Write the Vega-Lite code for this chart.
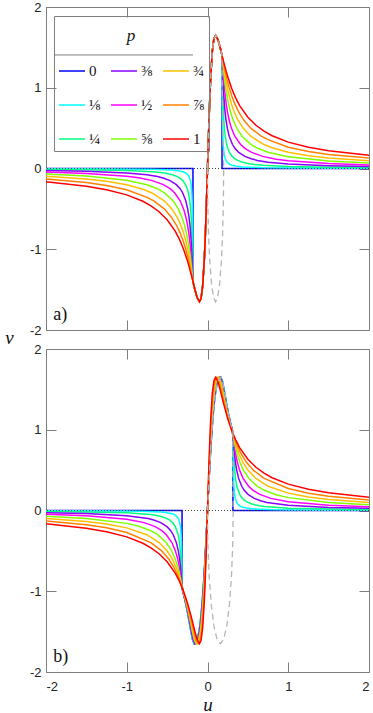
{
"$schema":"https://vega.github.io/schema/vega-lite/v6.json",
"padding":{"left":4,"top":0,"right":0,"bottom":0},
"config":{"view":{"stroke":"#7f7f7f","strokeWidth":1},"axis":{"domain":false,"grid":false,"tickColor":"#7f7f7f","tickWidth":1,"tickSize":-10,"labelFont":"Liberation Sans","labelFontSize":13,"labelColor":"#222222"}},
"spacing":19,
"bounds":"flush",
"resolve":{"scale":{"color":"independent"}},
"datasets":{
"a":[
{"p":"0","u":-2,"v":0},{"p":"0","u":-0.18,"v":0},
{"p":"0","u":-0.18,"v":-1.401},{"p":"0","u":-0.16,"v":-1.483},{"p":"0","u":-0.13,"v":-1.595},{"p":"0","u":-0.1,"v":-1.65},{"p":"0","u":-0.08,"v":-1.61},{"p":"0","u":-0.06,"v":-1.456},{"p":"0","u":-0.04,"v":-1.138},{"p":"0","u":-0.03,"v":-0.908},{"p":"0","u":-0.02,"v":-0.635},{"p":"0","u":-0.01,"v":-0.327},{"p":"0","u":0,"v":0},{"p":"0","u":0.01,"v":0.327},{"p":"0","u":0.02,"v":0.635},{"p":"0","u":0.03,"v":0.908},{"p":"0","u":0.04,"v":1.138},{"p":"0","u":0.06,"v":1.456},{"p":"0","u":0.08,"v":1.61},{"p":"0","u":0.1,"v":1.65},{"p":"0","u":0.13,"v":1.595},{"p":"0","u":0.16,"v":1.483},{"p":"0","u":0.18,"v":1.401},
{"p":"0","u":0.18,"v":0},{"p":"0","u":2,"v":0},

{"p":"⅛","u":-2,"v":-0.0028},{"p":"⅛","u":-1.5,"v":-0.0039},{"p":"⅛","u":-1,"v":-0.0063},{"p":"⅛","u":-0.6928,"v":-0.01},{"p":"⅛","u":-0.435,"v":-0.02},{"p":"⅛","u":-0.3491,"v":-0.03},{"p":"⅛","u":-0.3061,"v":-0.04},{"p":"⅛","u":-0.2803,"v":-0.05},{"p":"⅛","u":-0.2631,"v":-0.06},{"p":"⅛","u":-0.2416,"v":-0.08},{"p":"⅛","u":-0.2287,"v":-0.1},{"p":"⅛","u":-0.2115,"v":-0.15},{"p":"⅛","u":-0.2029,"v":-0.2},{"p":"⅛","u":-0.1942,"v":-0.3},{"p":"⅛","u":-0.1899,"v":-0.4},{"p":"⅛","u":-0.1855,"v":-0.6},{"p":"⅛","u":-0.1818,"v":-1.0},
{"p":"⅛","u":-0.18,"v":-1.401},{"p":"⅛","u":-0.16,"v":-1.483},{"p":"⅛","u":-0.13,"v":-1.595},{"p":"⅛","u":-0.1,"v":-1.65},{"p":"⅛","u":-0.08,"v":-1.61},{"p":"⅛","u":-0.06,"v":-1.456},{"p":"⅛","u":-0.04,"v":-1.138},{"p":"⅛","u":-0.03,"v":-0.908},{"p":"⅛","u":-0.02,"v":-0.635},{"p":"⅛","u":-0.01,"v":-0.327},{"p":"⅛","u":0,"v":0},{"p":"⅛","u":0.01,"v":0.327},{"p":"⅛","u":0.02,"v":0.635},{"p":"⅛","u":0.03,"v":0.908},{"p":"⅛","u":0.04,"v":1.138},{"p":"⅛","u":0.06,"v":1.456},{"p":"⅛","u":0.08,"v":1.61},{"p":"⅛","u":0.1,"v":1.65},{"p":"⅛","u":0.13,"v":1.595},{"p":"⅛","u":0.16,"v":1.483},{"p":"⅛","u":0.18,"v":1.401},
{"p":"⅛","u":0.1818,"v":1.0},{"p":"⅛","u":0.1855,"v":0.6},{"p":"⅛","u":0.1899,"v":0.4},{"p":"⅛","u":0.1942,"v":0.3},{"p":"⅛","u":0.2029,"v":0.2},{"p":"⅛","u":0.2115,"v":0.15},{"p":"⅛","u":0.2287,"v":0.1},{"p":"⅛","u":0.2416,"v":0.08},{"p":"⅛","u":0.2631,"v":0.06},{"p":"⅛","u":0.2803,"v":0.05},{"p":"⅛","u":0.3061,"v":0.04},{"p":"⅛","u":0.3491,"v":0.03},{"p":"⅛","u":0.435,"v":0.02},{"p":"⅛","u":0.6928,"v":0.01},{"p":"⅛","u":1,"v":0.0063},{"p":"⅛","u":1.5,"v":0.0039},{"p":"⅛","u":2,"v":0.0028},

{"p":"¼","u":-2,"v":-0.0113},{"p":"¼","u":-1.5,"v":-0.0155},{"p":"¼","u":-1,"v":-0.0248},{"p":"¼","u":-0.6844,"v":-0.04},{"p":"¼","u":-0.5813,"v":-0.05},{"p":"¼","u":-0.5125,"v":-0.06},{"p":"¼","u":-0.4263,"v":-0.08},{"p":"¼","u":-0.3748,"v":-0.1},{"p":"¼","u":-0.3404,"v":-0.12},{"p":"¼","u":-0.3059,"v":-0.15},{"p":"¼","u":-0.2715,"v":-0.2},{"p":"¼","u":-0.2508,"v":-0.25},{"p":"¼","u":-0.2369,"v":-0.3},{"p":"¼","u":-0.2196,"v":-0.4},{"p":"¼","u":-0.209,"v":-0.5},{"p":"¼","u":-0.202,"v":-0.6},{"p":"¼","u":-0.1929,"v":-0.8},{"p":"¼","u":-0.1873,"v":-1.0},
{"p":"¼","u":-0.18,"v":-1.401},{"p":"¼","u":-0.16,"v":-1.483},{"p":"¼","u":-0.13,"v":-1.595},{"p":"¼","u":-0.1,"v":-1.65},{"p":"¼","u":-0.08,"v":-1.61},{"p":"¼","u":-0.06,"v":-1.456},{"p":"¼","u":-0.04,"v":-1.138},{"p":"¼","u":-0.03,"v":-0.908},{"p":"¼","u":-0.02,"v":-0.635},{"p":"¼","u":-0.01,"v":-0.327},{"p":"¼","u":0,"v":0},{"p":"¼","u":0.01,"v":0.327},{"p":"¼","u":0.02,"v":0.635},{"p":"¼","u":0.03,"v":0.908},{"p":"¼","u":0.04,"v":1.138},{"p":"¼","u":0.06,"v":1.456},{"p":"¼","u":0.08,"v":1.61},{"p":"¼","u":0.1,"v":1.65},{"p":"¼","u":0.13,"v":1.595},{"p":"¼","u":0.16,"v":1.483},{"p":"¼","u":0.18,"v":1.401},
{"p":"¼","u":0.1873,"v":1.0},{"p":"¼","u":0.1929,"v":0.8},{"p":"¼","u":0.202,"v":0.6},{"p":"¼","u":0.209,"v":0.5},{"p":"¼","u":0.2196,"v":0.4},{"p":"¼","u":0.2369,"v":0.3},{"p":"¼","u":0.2508,"v":0.25},{"p":"¼","u":0.2715,"v":0.2},{"p":"¼","u":0.3059,"v":0.15},{"p":"¼","u":0.3404,"v":0.12},{"p":"¼","u":0.3748,"v":0.1},{"p":"¼","u":0.4263,"v":0.08},{"p":"¼","u":0.5125,"v":0.06},{"p":"¼","u":0.5813,"v":0.05},{"p":"¼","u":0.6844,"v":0.04},{"p":"¼","u":1,"v":0.0248},{"p":"¼","u":1.5,"v":0.0155},{"p":"¼","u":2,"v":0.0113},

{"p":"⅜","u":-2,"v":-0.0251},{"p":"⅜","u":-1.5,"v":-0.0345},{"p":"⅜","u":-1,"v":-0.0549},{"p":"⅜","u":-0.75,"v":-0.078},{"p":"⅜","u":-0.6183,"v":-0.1},{"p":"⅜","u":-0.541,"v":-0.12},{"p":"⅜","u":-0.4634,"v":-0.15},{"p":"⅜","u":-0.3859,"v":-0.2},{"p":"⅜","u":-0.3392,"v":-0.25},{"p":"⅜","u":-0.3081,"v":-0.3},{"p":"⅜","u":-0.269,"v":-0.4},{"p":"⅜","u":-0.2453,"v":-0.5},{"p":"⅜","u":-0.2294,"v":-0.6},{"p":"⅜","u":-0.2178,"v":-0.7},{"p":"⅜","u":-0.209,"v":-0.8},{"p":"⅜","u":-0.2021,"v":-0.9},{"p":"⅜","u":-0.1963,"v":-1.0},{"p":"⅜","u":-0.1915,"v":-1.1},{"p":"⅜","u":-0.1835,"v":-1.3},
{"p":"⅜","u":-0.18,"v":-1.401},{"p":"⅜","u":-0.16,"v":-1.483},{"p":"⅜","u":-0.13,"v":-1.595},{"p":"⅜","u":-0.1,"v":-1.65},{"p":"⅜","u":-0.08,"v":-1.61},{"p":"⅜","u":-0.06,"v":-1.456},{"p":"⅜","u":-0.04,"v":-1.138},{"p":"⅜","u":-0.03,"v":-0.908},{"p":"⅜","u":-0.02,"v":-0.635},{"p":"⅜","u":-0.01,"v":-0.327},{"p":"⅜","u":0,"v":0},{"p":"⅜","u":0.01,"v":0.327},{"p":"⅜","u":0.02,"v":0.635},{"p":"⅜","u":0.03,"v":0.908},{"p":"⅜","u":0.04,"v":1.138},{"p":"⅜","u":0.06,"v":1.456},{"p":"⅜","u":0.08,"v":1.61},{"p":"⅜","u":0.1,"v":1.65},{"p":"⅜","u":0.13,"v":1.595},{"p":"⅜","u":0.16,"v":1.483},{"p":"⅜","u":0.18,"v":1.401},
{"p":"⅜","u":0.1835,"v":1.3},{"p":"⅜","u":0.1915,"v":1.1},{"p":"⅜","u":0.1963,"v":1.0},{"p":"⅜","u":0.2021,"v":0.9},{"p":"⅜","u":0.209,"v":0.8},{"p":"⅜","u":0.2178,"v":0.7},{"p":"⅜","u":0.2294,"v":0.6},{"p":"⅜","u":0.2453,"v":0.5},{"p":"⅜","u":0.269,"v":0.4},{"p":"⅜","u":0.3081,"v":0.3},{"p":"⅜","u":0.3392,"v":0.25},{"p":"⅜","u":0.3859,"v":0.2},{"p":"⅜","u":0.4634,"v":0.15},{"p":"⅜","u":0.541,"v":0.12},{"p":"⅜","u":0.6183,"v":0.1},{"p":"⅜","u":0.75,"v":0.078},{"p":"⅜","u":1,"v":0.0549},{"p":"⅜","u":1.5,"v":0.0345},{"p":"⅜","u":2,"v":0.0251},

{"p":"½","u":-2,"v":-0.0443},{"p":"½","u":-1.5,"v":-0.0604},{"p":"½","u":-1,"v":-0.0954},{"p":"½","u":-0.85,"v":-0.1154},{"p":"½","u":-0.684,"v":-0.15},{"p":"½","u":-0.546,"v":-0.2},{"p":"½","u":-0.4631,"v":-0.25},{"p":"½","u":-0.4077,"v":-0.3},{"p":"½","u":-0.3382,"v":-0.4},{"p":"½","u":-0.2961,"v":-0.5},{"p":"½","u":-0.2678,"v":-0.6},{"p":"½","u":-0.2473,"v":-0.7},{"p":"½","u":-0.2317,"v":-0.8},{"p":"½","u":-0.2193,"v":-0.9},{"p":"½","u":-0.209,"v":-1.0},{"p":"½","u":-0.2005,"v":-1.1},{"p":"½","u":-0.1863,"v":-1.3},
{"p":"½","u":-0.18,"v":-1.401},{"p":"½","u":-0.16,"v":-1.483},{"p":"½","u":-0.13,"v":-1.595},{"p":"½","u":-0.1,"v":-1.65},{"p":"½","u":-0.08,"v":-1.61},{"p":"½","u":-0.06,"v":-1.456},{"p":"½","u":-0.04,"v":-1.138},{"p":"½","u":-0.03,"v":-0.908},{"p":"½","u":-0.02,"v":-0.635},{"p":"½","u":-0.01,"v":-0.327},{"p":"½","u":0,"v":0},{"p":"½","u":0.01,"v":0.327},{"p":"½","u":0.02,"v":0.635},{"p":"½","u":0.03,"v":0.908},{"p":"½","u":0.04,"v":1.138},{"p":"½","u":0.06,"v":1.456},{"p":"½","u":0.08,"v":1.61},{"p":"½","u":0.1,"v":1.65},{"p":"½","u":0.13,"v":1.595},{"p":"½","u":0.16,"v":1.483},{"p":"½","u":0.18,"v":1.401},
{"p":"½","u":0.1863,"v":1.3},{"p":"½","u":0.2005,"v":1.1},{"p":"½","u":0.209,"v":1.0},{"p":"½","u":0.2193,"v":0.9},{"p":"½","u":0.2317,"v":0.8},{"p":"½","u":0.2473,"v":0.7},{"p":"½","u":0.2678,"v":0.6},{"p":"½","u":0.2961,"v":0.5},{"p":"½","u":0.3382,"v":0.4},{"p":"½","u":0.4077,"v":0.3},{"p":"½","u":0.4631,"v":0.25},{"p":"½","u":0.546,"v":0.2},{"p":"½","u":0.684,"v":0.15},{"p":"½","u":0.85,"v":0.1154},{"p":"½","u":1,"v":0.0954},{"p":"½","u":1.5,"v":0.0604},{"p":"½","u":2,"v":0.0443},

{"p":"⅝","u":-2,"v":-0.0682},{"p":"⅝","u":-1.5,"v":-0.0927},{"p":"⅝","u":-1,"v":-0.1448},{"p":"⅝","u":-0.75,"v":-0.2013},{"p":"⅝","u":-0.6223,"v":-0.25},{"p":"⅝","u":-0.5358,"v":-0.3},{"p":"⅝","u":-0.4272,"v":-0.4},{"p":"⅝","u":-0.3614,"v":-0.5},{"p":"⅝","u":-0.3172,"v":-0.6},{"p":"⅝","u":-0.2851,"v":-0.7},{"p":"⅝","u":-0.2607,"v":-0.8},{"p":"⅝","u":-0.2413,"v":-0.9},{"p":"⅝","u":-0.2254,"v":-1.0},{"p":"⅝","u":-0.212,"v":-1.1},{"p":"⅝","u":-0.2003,"v":-1.2},{"p":"⅝","u":-0.1898,"v":-1.3},
{"p":"⅝","u":-0.18,"v":-1.401},{"p":"⅝","u":-0.16,"v":-1.483},{"p":"⅝","u":-0.13,"v":-1.595},{"p":"⅝","u":-0.1,"v":-1.65},{"p":"⅝","u":-0.08,"v":-1.61},{"p":"⅝","u":-0.06,"v":-1.456},{"p":"⅝","u":-0.04,"v":-1.138},{"p":"⅝","u":-0.03,"v":-0.908},{"p":"⅝","u":-0.02,"v":-0.635},{"p":"⅝","u":-0.01,"v":-0.327},{"p":"⅝","u":0,"v":0},{"p":"⅝","u":0.01,"v":0.327},{"p":"⅝","u":0.02,"v":0.635},{"p":"⅝","u":0.03,"v":0.908},{"p":"⅝","u":0.04,"v":1.138},{"p":"⅝","u":0.06,"v":1.456},{"p":"⅝","u":0.08,"v":1.61},{"p":"⅝","u":0.1,"v":1.65},{"p":"⅝","u":0.13,"v":1.595},{"p":"⅝","u":0.16,"v":1.483},{"p":"⅝","u":0.18,"v":1.401},
{"p":"⅝","u":0.1898,"v":1.3},{"p":"⅝","u":0.2003,"v":1.2},{"p":"⅝","u":0.212,"v":1.1},{"p":"⅝","u":0.2254,"v":1.0},{"p":"⅝","u":0.2413,"v":0.9},{"p":"⅝","u":0.2607,"v":0.8},{"p":"⅝","u":0.2851,"v":0.7},{"p":"⅝","u":0.3172,"v":0.6},{"p":"⅝","u":0.3614,"v":0.5},{"p":"⅝","u":0.4272,"v":0.4},{"p":"⅝","u":0.5358,"v":0.3},{"p":"⅝","u":0.6223,"v":0.25},{"p":"⅝","u":0.75,"v":0.2013},{"p":"⅝","u":1,"v":0.1448},{"p":"⅝","u":1.5,"v":0.0927},{"p":"⅝","u":2,"v":0.0682},

{"p":"¾","u":-2,"v":-0.0966},{"p":"¾","u":-1.5,"v":-0.1306},{"p":"¾","u":-1.25,"v":-0.1585},{"p":"¾","u":-1,"v":-0.2014},{"p":"¾","u":-0.8,"v":-0.2573},{"p":"¾","u":-0.6923,"v":-0.3},{"p":"¾","u":-0.5359,"v":-0.4},{"p":"¾","u":-0.4413,"v":-0.5},{"p":"¾","u":-0.3776,"v":-0.6},{"p":"¾","u":-0.3314,"v":-0.7},{"p":"¾","u":-0.2962,"v":-0.8},{"p":"¾","u":-0.2683,"v":-0.9},{"p":"¾","u":-0.2454,"v":-1.0},{"p":"¾","u":-0.226,"v":-1.1},{"p":"¾","u":-0.2092,"v":-1.2},{"p":"¾","u":-0.1941,"v":-1.3},
{"p":"¾","u":-0.18,"v":-1.401},{"p":"¾","u":-0.16,"v":-1.483},{"p":"¾","u":-0.13,"v":-1.595},{"p":"¾","u":-0.1,"v":-1.65},{"p":"¾","u":-0.08,"v":-1.61},{"p":"¾","u":-0.06,"v":-1.456},{"p":"¾","u":-0.04,"v":-1.138},{"p":"¾","u":-0.03,"v":-0.908},{"p":"¾","u":-0.02,"v":-0.635},{"p":"¾","u":-0.01,"v":-0.327},{"p":"¾","u":0,"v":0},{"p":"¾","u":0.01,"v":0.327},{"p":"¾","u":0.02,"v":0.635},{"p":"¾","u":0.03,"v":0.908},{"p":"¾","u":0.04,"v":1.138},{"p":"¾","u":0.06,"v":1.456},{"p":"¾","u":0.08,"v":1.61},{"p":"¾","u":0.1,"v":1.65},{"p":"¾","u":0.13,"v":1.595},{"p":"¾","u":0.16,"v":1.483},{"p":"¾","u":0.18,"v":1.401},
{"p":"¾","u":0.1941,"v":1.3},{"p":"¾","u":0.2092,"v":1.2},{"p":"¾","u":0.226,"v":1.1},{"p":"¾","u":0.2454,"v":1.0},{"p":"¾","u":0.2683,"v":0.9},{"p":"¾","u":0.2962,"v":0.8},{"p":"¾","u":0.3314,"v":0.7},{"p":"¾","u":0.3776,"v":0.6},{"p":"¾","u":0.4413,"v":0.5},{"p":"¾","u":0.5359,"v":0.4},{"p":"¾","u":0.6923,"v":0.3},{"p":"¾","u":0.8,"v":0.2573},{"p":"¾","u":1,"v":0.2014},{"p":"¾","u":1.25,"v":0.1585},{"p":"¾","u":1.5,"v":0.1306},{"p":"¾","u":2,"v":0.0966},

{"p":"⅞","u":-2,"v":-0.129},{"p":"⅞","u":-1.5,"v":-0.1733},{"p":"⅞","u":-1.25,"v":-0.2092},{"p":"⅞","u":-1,"v":-0.2638},{"p":"⅞","u":-0.75,"v":-0.357},{"p":"⅞","u":-0.6645,"v":-0.4},{"p":"⅞","u":-0.5356,"v":-0.5},{"p":"⅞","u":-0.4489,"v":-0.6},{"p":"⅞","u":-0.386,"v":-0.7},{"p":"⅞","u":-0.3382,"v":-0.8},{"p":"⅞","u":-0.3002,"v":-0.9},{"p":"⅞","u":-0.269,"v":-1.0},{"p":"⅞","u":-0.2426,"v":-1.1},{"p":"⅞","u":-0.2197,"v":-1.2},{"p":"⅞","u":-0.1992,"v":-1.3},
{"p":"⅞","u":-0.18,"v":-1.401},{"p":"⅞","u":-0.16,"v":-1.483},{"p":"⅞","u":-0.13,"v":-1.595},{"p":"⅞","u":-0.1,"v":-1.65},{"p":"⅞","u":-0.08,"v":-1.61},{"p":"⅞","u":-0.06,"v":-1.456},{"p":"⅞","u":-0.04,"v":-1.138},{"p":"⅞","u":-0.03,"v":-0.908},{"p":"⅞","u":-0.02,"v":-0.635},{"p":"⅞","u":-0.01,"v":-0.327},{"p":"⅞","u":0,"v":0},{"p":"⅞","u":0.01,"v":0.327},{"p":"⅞","u":0.02,"v":0.635},{"p":"⅞","u":0.03,"v":0.908},{"p":"⅞","u":0.04,"v":1.138},{"p":"⅞","u":0.06,"v":1.456},{"p":"⅞","u":0.08,"v":1.61},{"p":"⅞","u":0.1,"v":1.65},{"p":"⅞","u":0.13,"v":1.595},{"p":"⅞","u":0.16,"v":1.483},{"p":"⅞","u":0.18,"v":1.401},
{"p":"⅞","u":0.1992,"v":1.3},{"p":"⅞","u":0.2197,"v":1.2},{"p":"⅞","u":0.2426,"v":1.1},{"p":"⅞","u":0.269,"v":1.0},{"p":"⅞","u":0.3002,"v":0.9},{"p":"⅞","u":0.3382,"v":0.8},{"p":"⅞","u":0.386,"v":0.7},{"p":"⅞","u":0.4489,"v":0.6},{"p":"⅞","u":0.5356,"v":0.5},{"p":"⅞","u":0.6645,"v":0.4},{"p":"⅞","u":0.75,"v":0.357},{"p":"⅞","u":1,"v":0.2638},{"p":"⅞","u":1.25,"v":0.2092},{"p":"⅞","u":1.5,"v":0.1733},{"p":"⅞","u":2,"v":0.129},

{"p":"1","u":-2,"v":-0.1646},{"p":"1","u":-1.5,"v":-0.219},{"p":"1","u":-1.25,"v":-0.2623},{"p":"1","u":-1,"v":-0.3267},{"p":"1","u":-0.8,"v":-0.406},{"p":"1","u":-0.7,"v":-0.462},{"p":"1","u":-0.6,"v":-0.535},{"p":"1","u":-0.5,"v":-0.6346},{"p":"1","u":-0.4,"v":-0.776},{"p":"1","u":-0.35,"v":-0.872},{"p":"1","u":-0.3,"v":-0.99},{"p":"1","u":-0.25,"v":-1.138},{"p":"1","u":-0.2,"v":-1.32},
{"p":"1","u":-0.18,"v":-1.401},{"p":"1","u":-0.16,"v":-1.483},{"p":"1","u":-0.13,"v":-1.595},{"p":"1","u":-0.1,"v":-1.65},{"p":"1","u":-0.08,"v":-1.61},{"p":"1","u":-0.06,"v":-1.456},{"p":"1","u":-0.04,"v":-1.138},{"p":"1","u":-0.03,"v":-0.908},{"p":"1","u":-0.02,"v":-0.635},{"p":"1","u":-0.01,"v":-0.327},{"p":"1","u":0,"v":0},{"p":"1","u":0.01,"v":0.327},{"p":"1","u":0.02,"v":0.635},{"p":"1","u":0.03,"v":0.908},{"p":"1","u":0.04,"v":1.138},{"p":"1","u":0.06,"v":1.456},{"p":"1","u":0.08,"v":1.61},{"p":"1","u":0.1,"v":1.65},{"p":"1","u":0.13,"v":1.595},{"p":"1","u":0.16,"v":1.483},{"p":"1","u":0.18,"v":1.401},
{"p":"1","u":0.2,"v":1.32},{"p":"1","u":0.25,"v":1.138},{"p":"1","u":0.3,"v":0.99},{"p":"1","u":0.35,"v":0.872},{"p":"1","u":0.4,"v":0.776},{"p":"1","u":0.5,"v":0.6346},{"p":"1","u":0.6,"v":0.535},{"p":"1","u":0.7,"v":0.462},{"p":"1","u":0.8,"v":0.406},{"p":"1","u":1,"v":0.3267},{"p":"1","u":1.25,"v":0.2623},{"p":"1","u":1.5,"v":0.219},{"p":"1","u":2,"v":0.1646}
],
"b":[
{"p":"0","u":-2,"v":0},{"p":"0","u":-0.315,"v":0},{"p":"0","u":-0.315,"v":-0.97},{"p":"0","u":-0.3067,"v":-1.0},{"p":"0","u":-0.2818,"v":-1.1},{"p":"0","u":-0.2602,"v":-1.2},{"p":"0","u":-0.2409,"v":-1.3},{"p":"0","u":-0.2229,"v":-1.4},{"p":"0","u":-0.2053,"v":-1.5},{"p":"0","u":-0.1854,"v":-1.6},{"p":"0","u":-0.165,"v":-1.65},{"p":"0","u":-0.1286,"v":-1.6},{"p":"0","u":-0.1059,"v":-1.5},{"p":"0","u":-0.0915,"v":-1.4},{"p":"0","u":-0.0712,"v":-1.2},{"p":"0","u":-0.0557,"v":-1.0},{"p":"0","u":-0.0427,"v":-0.8},{"p":"0","u":-0.0311,"v":-0.6},{"p":"0","u":-0.0203,"v":-0.4},{"p":"0","u":-0.01,"v":-0.2},
{"p":"0","u":0,"v":0},
{"p":"0","u":0.01,"v":0.2},{"p":"0","u":0.0203,"v":0.4},{"p":"0","u":0.0311,"v":0.6},{"p":"0","u":0.0427,"v":0.8},{"p":"0","u":0.0557,"v":1.0},{"p":"0","u":0.0712,"v":1.2},{"p":"0","u":0.0915,"v":1.4},{"p":"0","u":0.1059,"v":1.5},{"p":"0","u":0.1286,"v":1.6},{"p":"0","u":0.165,"v":1.65},{"p":"0","u":0.1854,"v":1.6},{"p":"0","u":0.2053,"v":1.5},{"p":"0","u":0.2229,"v":1.4},{"p":"0","u":0.2409,"v":1.3},{"p":"0","u":0.2602,"v":1.2},{"p":"0","u":0.2818,"v":1.1},{"p":"0","u":0.3067,"v":1.0},{"p":"0","u":0.315,"v":0.97},{"p":"0","u":0.315,"v":0},{"p":"0","u":2,"v":0},

{"p":"⅛","u":-2,"v":-0.0031},{"p":"⅛","u":-1.5,"v":-0.0043},{"p":"⅛","u":-1,"v":-0.0075},{"p":"⅛","u":-0.8257,"v":-0.01},{"p":"⅛","u":-0.5679,"v":-0.02},{"p":"⅛","u":-0.482,"v":-0.03},{"p":"⅛","u":-0.439,"v":-0.04},{"p":"⅛","u":-0.4132,"v":-0.05},{"p":"⅛","u":-0.396,"v":-0.06},{"p":"⅛","u":-0.3745,"v":-0.08},{"p":"⅛","u":-0.3616,"v":-0.1},{"p":"⅛","u":-0.3444,"v":-0.15},{"p":"⅛","u":-0.3358,"v":-0.2},{"p":"⅛","u":-0.3271,"v":-0.3},{"p":"⅛","u":-0.3228,"v":-0.4},{"p":"⅛","u":-0.3184,"v":-0.6},{"p":"⅛","u":-0.3153,"v":-0.9},{"p":"⅛","u":-0.3065,"v":-1.0},{"p":"⅛","u":-0.2815,"v":-1.1},{"p":"⅛","u":-0.2598,"v":-1.2},{"p":"⅛","u":-0.2403,"v":-1.3},{"p":"⅛","u":-0.2222,"v":-1.4},{"p":"⅛","u":-0.2045,"v":-1.5},{"p":"⅛","u":-0.1845,"v":-1.6},{"p":"⅛","u":-0.164,"v":-1.65},{"p":"⅛","u":-0.1278,"v":-1.6},{"p":"⅛","u":-0.1052,"v":-1.5},{"p":"⅛","u":-0.0909,"v":-1.4},{"p":"⅛","u":-0.0708,"v":-1.2},{"p":"⅛","u":-0.0554,"v":-1.0},{"p":"⅛","u":-0.0424,"v":-0.8},{"p":"⅛","u":-0.0309,"v":-0.6},{"p":"⅛","u":-0.0202,"v":-0.4},{"p":"⅛","u":-0.0099,"v":-0.2},
{"p":"⅛","u":0,"v":0},
{"p":"⅛","u":0.0099,"v":0.2},{"p":"⅛","u":0.0202,"v":0.4},{"p":"⅛","u":0.0309,"v":0.6},{"p":"⅛","u":0.0424,"v":0.8},{"p":"⅛","u":0.0554,"v":1.0},{"p":"⅛","u":0.0708,"v":1.2},{"p":"⅛","u":0.0909,"v":1.4},{"p":"⅛","u":0.1052,"v":1.5},{"p":"⅛","u":0.1278,"v":1.6},{"p":"⅛","u":0.164,"v":1.65},{"p":"⅛","u":0.1845,"v":1.6},{"p":"⅛","u":0.2045,"v":1.5},{"p":"⅛","u":0.2222,"v":1.4},{"p":"⅛","u":0.2403,"v":1.3},{"p":"⅛","u":0.2598,"v":1.2},{"p":"⅛","u":0.2815,"v":1.1},{"p":"⅛","u":0.3065,"v":1.0},{"p":"⅛","u":0.3153,"v":0.9},{"p":"⅛","u":0.3184,"v":0.6},{"p":"⅛","u":0.3228,"v":0.4},{"p":"⅛","u":0.3271,"v":0.3},{"p":"⅛","u":0.3358,"v":0.2},{"p":"⅛","u":0.3444,"v":0.15},{"p":"⅛","u":0.3616,"v":0.1},{"p":"⅛","u":0.3745,"v":0.08},{"p":"⅛","u":0.396,"v":0.06},{"p":"⅛","u":0.4132,"v":0.05},{"p":"⅛","u":0.439,"v":0.04},{"p":"⅛","u":0.482,"v":0.03},{"p":"⅛","u":0.5679,"v":0.02},{"p":"⅛","u":0.8257,"v":0.01},{"p":"⅛","u":1,"v":0.0075},{"p":"⅛","u":1.5,"v":0.0043},{"p":"⅛","u":2,"v":0.0031},

{"p":"¼","u":-2,"v":-0.0121},{"p":"¼","u":-1.5,"v":-0.0171},{"p":"¼","u":-1,"v":-0.0293},{"p":"¼","u":-0.7078,"v":-0.05},{"p":"¼","u":-0.6391,"v":-0.06},{"p":"¼","u":-0.5531,"v":-0.08},{"p":"¼","u":-0.5014,"v":-0.1},{"p":"¼","u":-0.467,"v":-0.12},{"p":"¼","u":-0.4325,"v":-0.15},{"p":"¼","u":-0.3981,"v":-0.2},{"p":"¼","u":-0.3635,"v":-0.3},{"p":"¼","u":-0.3461,"v":-0.4},{"p":"¼","u":-0.3285,"v":-0.6},{"p":"¼","u":-0.3195,"v":-0.8},{"p":"¼","u":-0.3164,"v":-0.9},{"p":"¼","u":-0.306,"v":-1.0},{"p":"¼","u":-0.2806,"v":-1.1},{"p":"¼","u":-0.2584,"v":-1.2},{"p":"¼","u":-0.2387,"v":-1.3},{"p":"¼","u":-0.2202,"v":-1.4},{"p":"¼","u":-0.2022,"v":-1.5},{"p":"¼","u":-0.1818,"v":-1.6},{"p":"¼","u":-0.1609,"v":-1.65},{"p":"¼","u":-0.1254,"v":-1.6},{"p":"¼","u":-0.1033,"v":-1.5},{"p":"¼","u":-0.0893,"v":-1.4},{"p":"¼","u":-0.0694,"v":-1.2},{"p":"¼","u":-0.0543,"v":-1.0},{"p":"¼","u":-0.0417,"v":-0.8},{"p":"¼","u":-0.0303,"v":-0.6},{"p":"¼","u":-0.0198,"v":-0.4},{"p":"¼","u":-0.0098,"v":-0.2},
{"p":"¼","u":0,"v":0},
{"p":"¼","u":0.0098,"v":0.2},{"p":"¼","u":0.0198,"v":0.4},{"p":"¼","u":0.0303,"v":0.6},{"p":"¼","u":0.0417,"v":0.8},{"p":"¼","u":0.0543,"v":1.0},{"p":"¼","u":0.0694,"v":1.2},{"p":"¼","u":0.0893,"v":1.4},{"p":"¼","u":0.1033,"v":1.5},{"p":"¼","u":0.1254,"v":1.6},{"p":"¼","u":0.1609,"v":1.65},{"p":"¼","u":0.1818,"v":1.6},{"p":"¼","u":0.2022,"v":1.5},{"p":"¼","u":0.2202,"v":1.4},{"p":"¼","u":0.2387,"v":1.3},{"p":"¼","u":0.2584,"v":1.2},{"p":"¼","u":0.2806,"v":1.1},{"p":"¼","u":0.306,"v":1.0},{"p":"¼","u":0.3164,"v":0.9},{"p":"¼","u":0.3195,"v":0.8},{"p":"¼","u":0.3285,"v":0.6},{"p":"¼","u":0.3461,"v":0.4},{"p":"¼","u":0.3635,"v":0.3},{"p":"¼","u":0.3981,"v":0.2},{"p":"¼","u":0.4325,"v":0.15},{"p":"¼","u":0.467,"v":0.12},{"p":"¼","u":0.5014,"v":0.1},{"p":"¼","u":0.5531,"v":0.08},{"p":"¼","u":0.6391,"v":0.06},{"p":"¼","u":0.7078,"v":0.05},{"p":"¼","u":1,"v":0.0293},{"p":"¼","u":1.5,"v":0.0171},{"p":"¼","u":2,"v":0.0121},

{"p":"⅜","u":-2,"v":-0.0268},{"p":"⅜","u":-1.5,"v":-0.0377},{"p":"⅜","u":-1,"v":-0.0636},{"p":"⅜","u":-0.7343,"v":-0.1},{"p":"⅜","u":-0.657,"v":-0.12},{"p":"⅜","u":-0.5793,"v":-0.15},{"p":"⅜","u":-0.5019,"v":-0.2},{"p":"⅜","u":-0.4552,"v":-0.25},{"p":"⅜","u":-0.4241,"v":-0.3},{"p":"⅜","u":-0.385,"v":-0.4},{"p":"⅜","u":-0.3613,"v":-0.5},{"p":"⅜","u":-0.3454,"v":-0.6},{"p":"⅜","u":-0.3339,"v":-0.7},{"p":"⅜","u":-0.3251,"v":-0.8},{"p":"⅜","u":-0.3181,"v":-0.9},{"p":"⅜","u":-0.3052,"v":-1.0},{"p":"⅜","u":-0.279,"v":-1.1},{"p":"⅜","u":-0.2562,"v":-1.2},{"p":"⅜","u":-0.2359,"v":-1.3},{"p":"⅜","u":-0.2169,"v":-1.4},{"p":"⅜","u":-0.1983,"v":-1.5},{"p":"⅜","u":-0.1774,"v":-1.6},{"p":"⅜","u":-0.1559,"v":-1.65},{"p":"⅜","u":-0.1215,"v":-1.6},{"p":"⅜","u":-0.1,"v":-1.5},{"p":"⅜","u":-0.0864,"v":-1.4},{"p":"⅜","u":-0.0673,"v":-1.2},{"p":"⅜","u":-0.0526,"v":-1.0},{"p":"⅜","u":-0.0403,"v":-0.8},{"p":"⅜","u":-0.0294,"v":-0.6},{"p":"⅜","u":-0.0192,"v":-0.4},{"p":"⅜","u":-0.0094,"v":-0.2},
{"p":"⅜","u":0,"v":0},
{"p":"⅜","u":0.0094,"v":0.2},{"p":"⅜","u":0.0192,"v":0.4},{"p":"⅜","u":0.0294,"v":0.6},{"p":"⅜","u":0.0403,"v":0.8},{"p":"⅜","u":0.0526,"v":1.0},{"p":"⅜","u":0.0673,"v":1.2},{"p":"⅜","u":0.0864,"v":1.4},{"p":"⅜","u":0.1,"v":1.5},{"p":"⅜","u":0.1215,"v":1.6},{"p":"⅜","u":0.1559,"v":1.65},{"p":"⅜","u":0.1774,"v":1.6},{"p":"⅜","u":0.1983,"v":1.5},{"p":"⅜","u":0.2169,"v":1.4},{"p":"⅜","u":0.2359,"v":1.3},{"p":"⅜","u":0.2562,"v":1.2},{"p":"⅜","u":0.279,"v":1.1},{"p":"⅜","u":0.3052,"v":1.0},{"p":"⅜","u":0.3181,"v":0.9},{"p":"⅜","u":0.3251,"v":0.8},{"p":"⅜","u":0.3339,"v":0.7},{"p":"⅜","u":0.3454,"v":0.6},{"p":"⅜","u":0.3613,"v":0.5},{"p":"⅜","u":0.385,"v":0.4},{"p":"⅜","u":0.4241,"v":0.3},{"p":"⅜","u":0.4552,"v":0.25},{"p":"⅜","u":0.5019,"v":0.2},{"p":"⅜","u":0.5793,"v":0.15},{"p":"⅜","u":0.657,"v":0.12},{"p":"⅜","u":0.7343,"v":0.1},{"p":"⅜","u":1,"v":0.0636},{"p":"⅜","u":1.5,"v":0.0377},{"p":"⅜","u":2,"v":0.0268},

{"p":"½","u":-2,"v":-0.0468},{"p":"½","u":-1.5,"v":-0.0653},{"p":"½","u":-1,"v":-0.108},{"p":"½","u":-0.785,"v":-0.15},{"p":"½","u":-0.6473,"v":-0.2},{"p":"½","u":-0.5644,"v":-0.25},{"p":"½","u":-0.509,"v":-0.3},{"p":"½","u":-0.4395,"v":-0.4},{"p":"½","u":-0.3974,"v":-0.5},{"p":"½","u":-0.3691,"v":-0.6},{"p":"½","u":-0.3485,"v":-0.7},{"p":"½","u":-0.3329,"v":-0.8},{"p":"½","u":-0.3205,"v":-0.9},{"p":"½","u":-0.3041,"v":-1.0},{"p":"½","u":-0.2768,"v":-1.1},{"p":"½","u":-0.2531,"v":-1.2},{"p":"½","u":-0.232,"v":-1.3},{"p":"½","u":-0.2122,"v":-1.4},{"p":"½","u":-0.1929,"v":-1.5},{"p":"½","u":-0.1711,"v":-1.6},{"p":"½","u":-0.1488,"v":-1.65},{"p":"½","u":-0.1159,"v":-1.6},{"p":"½","u":-0.0955,"v":-1.5},{"p":"½","u":-0.0825,"v":-1.4},{"p":"½","u":-0.0642,"v":-1.2},{"p":"½","u":-0.0502,"v":-1.0},{"p":"½","u":-0.0385,"v":-0.8},{"p":"½","u":-0.028,"v":-0.6},{"p":"½","u":-0.0183,"v":-0.4},{"p":"½","u":-0.009,"v":-0.2},
{"p":"½","u":0,"v":0},
{"p":"½","u":0.009,"v":0.2},{"p":"½","u":0.0183,"v":0.4},{"p":"½","u":0.028,"v":0.6},{"p":"½","u":0.0385,"v":0.8},{"p":"½","u":0.0502,"v":1.0},{"p":"½","u":0.0642,"v":1.2},{"p":"½","u":0.0825,"v":1.4},{"p":"½","u":0.0955,"v":1.5},{"p":"½","u":0.1159,"v":1.6},{"p":"½","u":0.1488,"v":1.65},{"p":"½","u":0.1711,"v":1.6},{"p":"½","u":0.1929,"v":1.5},{"p":"½","u":0.2122,"v":1.4},{"p":"½","u":0.232,"v":1.3},{"p":"½","u":0.2531,"v":1.2},{"p":"½","u":0.2768,"v":1.1},{"p":"½","u":0.3041,"v":1.0},{"p":"½","u":0.3205,"v":0.9},{"p":"½","u":0.3329,"v":0.8},{"p":"½","u":0.3485,"v":0.7},{"p":"½","u":0.3691,"v":0.6},{"p":"½","u":0.3974,"v":0.5},{"p":"½","u":0.4395,"v":0.4},{"p":"½","u":0.509,"v":0.3},{"p":"½","u":0.5644,"v":0.25},{"p":"½","u":0.6473,"v":0.2},{"p":"½","u":0.785,"v":0.15},{"p":"½","u":1,"v":0.108},{"p":"½","u":1.5,"v":0.0653},{"p":"½","u":2,"v":0.0468},

{"p":"⅝","u":-2,"v":-0.0713},{"p":"⅝","u":-1.5,"v":-0.0985},{"p":"⅝","u":-1,"v":-0.1595},{"p":"⅝","u":-0.85,"v":-0.1959},{"p":"⅝","u":-0.7046,"v":-0.25},{"p":"⅝","u":-0.618,"v":-0.3},{"p":"⅝","u":-0.5094,"v":-0.4},{"p":"⅝","u":-0.4437,"v":-0.5},{"p":"⅝","u":-0.3995,"v":-0.6},{"p":"⅝","u":-0.3674,"v":-0.7},{"p":"⅝","u":-0.343,"v":-0.8},{"p":"⅝","u":-0.3236,"v":-0.9},{"p":"⅝","u":-0.3026,"v":-1.0},{"p":"⅝","u":-0.274,"v":-1.1},{"p":"⅝","u":-0.2492,"v":-1.2},{"p":"⅝","u":-0.2269,"v":-1.3},{"p":"⅝","u":-0.2062,"v":-1.4},{"p":"⅝","u":-0.186,"v":-1.5},{"p":"⅝","u":-0.1631,"v":-1.6},{"p":"⅝","u":-0.1396,"v":-1.65},{"p":"⅝","u":-0.1088,"v":-1.6},{"p":"⅝","u":-0.0896,"v":-1.5},{"p":"⅝","u":-0.0774,"v":-1.4},{"p":"⅝","u":-0.0602,"v":-1.2},{"p":"⅝","u":-0.0472,"v":-1.0},{"p":"⅝","u":-0.0361,"v":-0.8},{"p":"⅝","u":-0.0263,"v":-0.6},{"p":"⅝","u":-0.0172,"v":-0.4},{"p":"⅝","u":-0.0084,"v":-0.2},
{"p":"⅝","u":0,"v":0},
{"p":"⅝","u":0.0084,"v":0.2},{"p":"⅝","u":0.0172,"v":0.4},{"p":"⅝","u":0.0263,"v":0.6},{"p":"⅝","u":0.0361,"v":0.8},{"p":"⅝","u":0.0472,"v":1.0},{"p":"⅝","u":0.0602,"v":1.2},{"p":"⅝","u":0.0774,"v":1.4},{"p":"⅝","u":0.0896,"v":1.5},{"p":"⅝","u":0.1088,"v":1.6},{"p":"⅝","u":0.1396,"v":1.65},{"p":"⅝","u":0.1631,"v":1.6},{"p":"⅝","u":0.186,"v":1.5},{"p":"⅝","u":0.2062,"v":1.4},{"p":"⅝","u":0.2269,"v":1.3},{"p":"⅝","u":0.2492,"v":1.2},{"p":"⅝","u":0.274,"v":1.1},{"p":"⅝","u":0.3026,"v":1.0},{"p":"⅝","u":0.3236,"v":0.9},{"p":"⅝","u":0.343,"v":0.8},{"p":"⅝","u":0.3674,"v":0.7},{"p":"⅝","u":0.3995,"v":0.6},{"p":"⅝","u":0.4437,"v":0.5},{"p":"⅝","u":0.5094,"v":0.4},{"p":"⅝","u":0.618,"v":0.3},{"p":"⅝","u":0.7046,"v":0.25},{"p":"⅝","u":0.85,"v":0.1959},{"p":"⅝","u":1,"v":0.1595},{"p":"⅝","u":1.5,"v":0.0985},{"p":"⅝","u":2,"v":0.0713},

{"p":"¾","u":-2,"v":-0.0997},{"p":"¾","u":-1.5,"v":-0.1363},{"p":"¾","u":-1.25,"v":-0.1669},{"p":"¾","u":-1,"v":-0.2153},{"p":"¾","u":-0.7514,"v":-0.3},{"p":"¾","u":-0.595,"v":-0.4},{"p":"¾","u":-0.5003,"v":-0.5},{"p":"¾","u":-0.4366,"v":-0.6},{"p":"¾","u":-0.3904,"v":-0.7},{"p":"¾","u":-0.3553,"v":-0.8},{"p":"¾","u":-0.3274,"v":-0.9},{"p":"¾","u":-0.3008,"v":-1.0},{"p":"¾","u":-0.2706,"v":-1.1},{"p":"¾","u":-0.2443,"v":-1.2},{"p":"¾","u":-0.2208,"v":-1.3},{"p":"¾","u":-0.1989,"v":-1.4},{"p":"¾","u":-0.1775,"v":-1.5},{"p":"¾","u":-0.1533,"v":-1.6},{"p":"¾","u":-0.1284,"v":-1.65},{"p":"¾","u":-0.1001,"v":-1.6},{"p":"¾","u":-0.0824,"v":-1.5},{"p":"¾","u":-0.0713,"v":-1.4},{"p":"¾","u":-0.0554,"v":-1.2},{"p":"¾","u":-0.0434,"v":-1.0},{"p":"¾","u":-0.0333,"v":-0.8},{"p":"¾","u":-0.0242,"v":-0.6},{"p":"¾","u":-0.0158,"v":-0.4},{"p":"¾","u":-0.0078,"v":-0.2},
{"p":"¾","u":0,"v":0},
{"p":"¾","u":0.0078,"v":0.2},{"p":"¾","u":0.0158,"v":0.4},{"p":"¾","u":0.0242,"v":0.6},{"p":"¾","u":0.0333,"v":0.8},{"p":"¾","u":0.0434,"v":1.0},{"p":"¾","u":0.0554,"v":1.2},{"p":"¾","u":0.0713,"v":1.4},{"p":"¾","u":0.0824,"v":1.5},{"p":"¾","u":0.1001,"v":1.6},{"p":"¾","u":0.1284,"v":1.65},{"p":"¾","u":0.1533,"v":1.6},{"p":"¾","u":0.1775,"v":1.5},{"p":"¾","u":0.1989,"v":1.4},{"p":"¾","u":0.2208,"v":1.3},{"p":"¾","u":0.2443,"v":1.2},{"p":"¾","u":0.2706,"v":1.1},{"p":"¾","u":0.3008,"v":1.0},{"p":"¾","u":0.3274,"v":0.9},{"p":"¾","u":0.3553,"v":0.8},{"p":"¾","u":0.3904,"v":0.7},{"p":"¾","u":0.4366,"v":0.6},{"p":"¾","u":0.5003,"v":0.5},{"p":"¾","u":0.595,"v":0.4},{"p":"¾","u":0.7514,"v":0.3},{"p":"¾","u":1,"v":0.2153},{"p":"¾","u":1.25,"v":0.1669},{"p":"¾","u":1.5,"v":0.1363},{"p":"¾","u":2,"v":0.0997},

{"p":"⅞","u":-2,"v":-0.1312},{"p":"⅞","u":-1.5,"v":-0.1772},{"p":"⅞","u":-1.25,"v":-0.2148},{"p":"⅞","u":-1,"v":-0.2728},{"p":"⅞","u":-0.6961,"v":-0.4},{"p":"⅞","u":-0.5673,"v":-0.5},{"p":"⅞","u":-0.4805,"v":-0.6},{"p":"⅞","u":-0.4177,"v":-0.7},{"p":"⅞","u":-0.3698,"v":-0.8},{"p":"⅞","u":-0.3318,"v":-0.9},{"p":"⅞","u":-0.2987,"v":-1.0},{"p":"⅞","u":-0.2665,"v":-1.1},{"p":"⅞","u":-0.2385,"v":-1.2},{"p":"⅞","u":-0.2135,"v":-1.3},{"p":"⅞","u":-0.1902,"v":-1.4},{"p":"⅞","u":-0.1674,"v":-1.5},{"p":"⅞","u":-0.1417,"v":-1.6},{"p":"⅞","u":-0.1152,"v":-1.65},{"p":"⅞","u":-0.0898,"v":-1.6},{"p":"⅞","u":-0.074,"v":-1.5},{"p":"⅞","u":-0.0639,"v":-1.4},{"p":"⅞","u":-0.0497,"v":-1.2},{"p":"⅞","u":-0.0389,"v":-1.0},{"p":"⅞","u":-0.0298,"v":-0.8},{"p":"⅞","u":-0.0217,"v":-0.6},{"p":"⅞","u":-0.0142,"v":-0.4},{"p":"⅞","u":-0.0069,"v":-0.2},
{"p":"⅞","u":0,"v":0},
{"p":"⅞","u":0.0069,"v":0.2},{"p":"⅞","u":0.0142,"v":0.4},{"p":"⅞","u":0.0217,"v":0.6},{"p":"⅞","u":0.0298,"v":0.8},{"p":"⅞","u":0.0389,"v":1.0},{"p":"⅞","u":0.0497,"v":1.2},{"p":"⅞","u":0.0639,"v":1.4},{"p":"⅞","u":0.074,"v":1.5},{"p":"⅞","u":0.0898,"v":1.6},{"p":"⅞","u":0.1152,"v":1.65},{"p":"⅞","u":0.1417,"v":1.6},{"p":"⅞","u":0.1674,"v":1.5},{"p":"⅞","u":0.1902,"v":1.4},{"p":"⅞","u":0.2135,"v":1.3},{"p":"⅞","u":0.2385,"v":1.2},{"p":"⅞","u":0.2665,"v":1.1},{"p":"⅞","u":0.2987,"v":1.0},{"p":"⅞","u":0.3318,"v":0.9},{"p":"⅞","u":0.3698,"v":0.8},{"p":"⅞","u":0.4177,"v":0.7},{"p":"⅞","u":0.4805,"v":0.6},{"p":"⅞","u":0.5673,"v":0.5},{"p":"⅞","u":0.6961,"v":0.4},{"p":"⅞","u":1,"v":0.2728},{"p":"⅞","u":1.25,"v":0.2148},{"p":"⅞","u":1.5,"v":0.1772},{"p":"⅞","u":2,"v":0.1312},

{"p":"1","u":-2,"v":-0.1646},{"p":"1","u":-1.5,"v":-0.219},{"p":"1","u":-1.25,"v":-0.2623},{"p":"1","u":-1,"v":-0.3267},{"p":"1","u":-0.8,"v":-0.406},{"p":"1","u":-0.7,"v":-0.462},{"p":"1","u":-0.6,"v":-0.535},{"p":"1","u":-0.5,"v":-0.6346},{"p":"1","u":-0.4,"v":-0.776},{"p":"1","u":-0.35,"v":-0.872},{"p":"1","u":-0.3,"v":-0.99},{"p":"1","u":-0.25,"v":-1.138},{"p":"1","u":-0.2,"v":-1.32},{"p":"1","u":-0.18,"v":-1.401},{"p":"1","u":-0.16,"v":-1.483},{"p":"1","u":-0.13,"v":-1.595},{"p":"1","u":-0.1,"v":-1.65},{"p":"1","u":-0.08,"v":-1.61},{"p":"1","u":-0.06,"v":-1.456},{"p":"1","u":-0.04,"v":-1.138},{"p":"1","u":-0.03,"v":-0.908},{"p":"1","u":-0.02,"v":-0.635},{"p":"1","u":-0.01,"v":-0.327},{"p":"1","u":0,"v":0},{"p":"1","u":0.01,"v":0.327},{"p":"1","u":0.02,"v":0.635},{"p":"1","u":0.03,"v":0.908},{"p":"1","u":0.04,"v":1.138},{"p":"1","u":0.06,"v":1.456},{"p":"1","u":0.08,"v":1.61},{"p":"1","u":0.1,"v":1.65},{"p":"1","u":0.13,"v":1.595},{"p":"1","u":0.16,"v":1.483},{"p":"1","u":0.18,"v":1.401},{"p":"1","u":0.2,"v":1.32},{"p":"1","u":0.25,"v":1.138},{"p":"1","u":0.3,"v":0.99},{"p":"1","u":0.35,"v":0.872},{"p":"1","u":0.4,"v":0.776},{"p":"1","u":0.5,"v":0.6346},{"p":"1","u":0.6,"v":0.535},{"p":"1","u":0.7,"v":0.462},{"p":"1","u":0.8,"v":0.406},{"p":"1","u":1,"v":0.3267},{"p":"1","u":1.25,"v":0.2623},{"p":"1","u":1.5,"v":0.219},{"p":"1","u":2,"v":0.1646}
],
"la":[
{"u":0,"v":0},{"u":0.01,"v":0.327},{"u":0.02,"v":0.635},{"u":0.03,"v":0.908},{"u":0.04,"v":1.138},{"u":0.06,"v":1.456},{"u":0.08,"v":1.61},{"u":0.1,"v":1.65},{"u":0.13,"v":1.595},{"u":0.16,"v":1.483},{"u":0.18,"v":1.401},{"u":0.182,"v":1.0},{"u":0.188,"v":0.6},{"u":0.197,"v":0.25},{"u":0.2,"v":0},
{"u":0.1966,"v":-0.427},{"u":0.1866,"v":-0.825},{"u":0.1707,"v":-1.167},{"u":0.15,"v":-1.429},{"u":0.1259,"v":-1.594},{"u":0.1,"v":-1.65},{"u":0.0741,"v":-1.594},{"u":0.05,"v":-1.429},{"u":0.0293,"v":-1.167},{"u":0.0134,"v":-0.825},{"u":0.0034,"v":-0.427},{"u":0,"v":0}
],
"lb":[
{"u":0,"v":0},{"u":0.01,"v":0.2},{"u":0.0203,"v":0.4},{"u":0.0311,"v":0.6},{"u":0.0427,"v":0.8},{"u":0.0557,"v":1.0},{"u":0.0712,"v":1.2},{"u":0.0915,"v":1.4},{"u":0.1059,"v":1.5},{"u":0.1286,"v":1.6},{"u":0.165,"v":1.65},{"u":0.1854,"v":1.6},{"u":0.2053,"v":1.5},{"u":0.2229,"v":1.4},{"u":0.2409,"v":1.3},{"u":0.2602,"v":1.2},{"u":0.2818,"v":1.1},{"u":0.3067,"v":1.0},{"u":0.315,"v":0.97},{"u":0.315,"v":0.5},{"u":0.318,"v":0},
{"u":0.3126,"v":-0.427},{"u":0.2967,"v":-0.825},{"u":0.2714,"v":-1.167},{"u":0.2385,"v":-1.429},{"u":0.2002,"v":-1.594},{"u":0.159,"v":-1.65},{"u":0.1178,"v":-1.594},{"u":0.0795,"v":-1.429},{"u":0.0466,"v":-1.167},{"u":0.0213,"v":-0.825},{"u":0.0054,"v":-0.427},{"u":0,"v":0}
]
},
"vconcat":[
{"width":323,"height":323,
"layer":[
{"data":{"name":"a"},"mark":{"type":"line","strokeWidth":1.5,"clip":true},
"encoding":{
"x":{"field":"u","type":"quantitative","scale":{"domain":[-2,2],"nice":false,"zero":false},"axis":{"orient":"bottom","values":[-2,-1,0,1,2],"labels":false,"title":null}},
"y":{"field":"v","type":"quantitative","scale":{"domain":[-2,2],"nice":false,"zero":false},"axis":{"orient":"left","values":[-2,-1,0,1,2],"labelExpr":"'' + datum.value","labelPadding":15,"title":"v","titleAngle":0,"titleFont":"Liberation Serif","titleFontStyle":"italic","titleFontWeight":"normal","titleFontSize":19,"titleColor":"#111111","titleAlign":"center","titleBaseline":"alphabetic","titleX":-37,"titleY":336}},
"color":{"field":"p","type":"nominal","scale":{"domain":["0","⅛","¼","⅜","½","⅝","¾","⅞","1"],"range":["#0000ff","#00ffff","#00ff80","#8800ff","#ff00ff","#80ff00","#ffbf00","#ff8000","#ff0000"]},
"legend":{"orient":"none","legendX":8,"legendY":9,"title":["","p"],"titleLineHeight":8,"titleFont":"Liberation Serif","titleFontStyle":"italic","titleFontWeight":"normal","titleFontSize":17,"titleColor":"#111111","titleAnchor":"middle","titlePadding":12,"columns":3,"columnPadding":7,"rowPadding":12,"symbolType":"stroke","symbolSize":676,"symbolStrokeWidth":1.5,"labelFont":"Liberation Serif","labelFontSize":15,"labelColor":"#111111","labelOffset":3,"strokeColor":"#7f7f7f","padding":4}},
"order":{"value":null}}},
{"data":{"name":"la"},"mark":{"type":"line","color":"#b5b5b5","strokeWidth":1.3,"strokeDash":[6,4],"clip":true},
"encoding":{"x":{"field":"u","type":"quantitative","scale":{"domain":[-2,2],"nice":false,"zero":false},"axis":null},"y":{"field":"v","type":"quantitative","scale":{"domain":[-2,2],"nice":false,"zero":false},"axis":null},"order":{"value":null}}},
{"data":{"values":[{}]},"mark":{"type":"rule","color":"#444444","strokeWidth":1,"strokeDash":[1,2]},"encoding":{"y":{"datum":0,"type":"quantitative","scale":{"domain":[-2,2],"nice":false,"zero":false},"axis":null}}},
{"data":{"values":[{}]},"mark":{"type":"rule","color":"#7f7f7f","strokeWidth":1},"encoding":{"x":{"datum":-1.901,"type":"quantitative","scale":{"domain":[-2,2],"nice":false,"zero":false},"axis":null},"x2":{"datum":-0.18},"y":{"datum":1.406,"type":"quantitative","scale":{"domain":[-2,2],"nice":false,"zero":false},"axis":null}}},
{"data":{"values":[{}]},"mark":{"type":"text","text":"a)","align":"left","baseline":"middle","font":"Liberation Serif","fontSize":18,"color":"#111111"},
"encoding":{"x":{"datum":-1.91,"type":"quantitative","scale":{"domain":[-2,2],"nice":false,"zero":false},"axis":{"orient":"top","values":[-2,-1,0,1,2],"labels":false,"title":null}},"y":{"datum":-1.82,"type":"quantitative","scale":{"domain":[-2,2],"nice":false,"zero":false},"axis":{"orient":"right","values":[-2,-1,0,1,2],"labels":false,"title":null}}}}
],
"resolve":{"axis":{"x":"independent","y":"independent"}}},
{"width":323,"height":323,
"layer":[
{"data":{"name":"b"},"mark":{"type":"line","strokeWidth":1.5,"clip":true},
"encoding":{
"x":{"field":"u","type":"quantitative","scale":{"domain":[-2,2],"nice":false,"zero":false},"axis":{"orient":"bottom","values":[-2,-1,0,1,2],"labelExpr":"'' + datum.value","labelPadding":18,"title":"u","titleFont":"Liberation Serif","titleFontStyle":"italic","titleFontWeight":"normal","titleFontSize":19,"titleColor":"#111111","titleAlign":"center","titleBaseline":"alphabetic","titleX":161.5,"titleY":38}},
"y":{"field":"v","type":"quantitative","scale":{"domain":[-2,2],"nice":false,"zero":false},"axis":{"orient":"left","values":[-2,-1,0,1,2],"labelExpr":"'' + datum.value","labelPadding":15,"title":null}},
"color":{"field":"p","type":"nominal","scale":{"domain":["0","⅛","¼","⅜","½","⅝","¾","⅞","1"],"range":["#0000ff","#00ffff","#00ff80","#8800ff","#ff00ff","#80ff00","#ffbf00","#ff8000","#ff0000"]},"legend":null},
"order":{"value":null}}},
{"data":{"name":"lb"},"mark":{"type":"line","color":"#b5b5b5","strokeWidth":1.3,"strokeDash":[6,4],"clip":true},
"encoding":{"x":{"field":"u","type":"quantitative","scale":{"domain":[-2,2],"nice":false,"zero":false},"axis":null},"y":{"field":"v","type":"quantitative","scale":{"domain":[-2,2],"nice":false,"zero":false},"axis":null},"order":{"value":null}}},
{"data":{"values":[{}]},"mark":{"type":"rule","color":"#444444","strokeWidth":1,"strokeDash":[1,2]},"encoding":{"y":{"datum":0,"type":"quantitative","scale":{"domain":[-2,2],"nice":false,"zero":false},"axis":null}}},
{"data":{"values":[{}]},"mark":{"type":"text","text":"b)","align":"left","baseline":"middle","font":"Liberation Serif","fontSize":18,"color":"#111111"},
"encoding":{"x":{"datum":-1.91,"type":"quantitative","scale":{"domain":[-2,2],"nice":false,"zero":false},"axis":{"orient":"top","values":[-2,-1,0,1,2],"labels":false,"title":null}},"y":{"datum":-1.82,"type":"quantitative","scale":{"domain":[-2,2],"nice":false,"zero":false},"axis":{"orient":"right","values":[-2,-1,0,1,2],"labels":false,"title":null}}}}
],
"resolve":{"axis":{"x":"independent","y":"independent"}}}
]
}
